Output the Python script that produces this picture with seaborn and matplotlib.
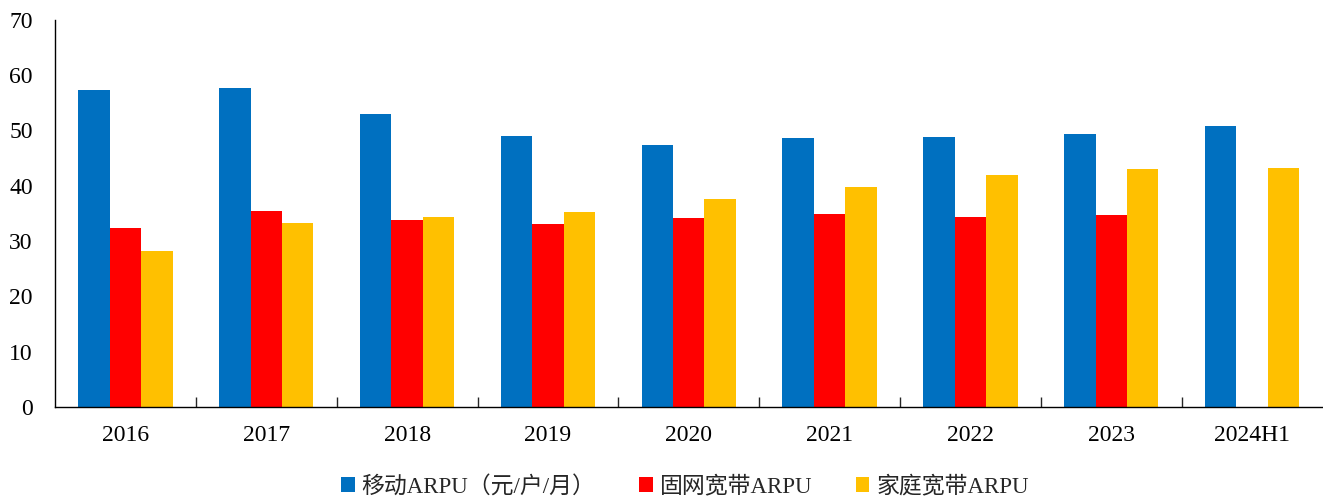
import seaborn as sns
import numpy as np
import pandas as pd
import matplotlib.pyplot as plt
from matplotlib.ticker import FixedLocator

# datos
anios = ['2016', '2017', '2018', '2019', '2020', '2021', '2022', '2023', '2024H1']
movil_arpu = [57.4, 57.7, 53.0, 49.0, 47.3, 48.7, 48.9, 49.3, 50.9]
fijo_arpu = [32.3, 35.4, 33.8, 33.1, 34.2, 34.9, 34.4, 34.8, np.nan]
hogar_arpu = [28.2, 33.2, 34.3, 35.2, 37.6, 39.7, 42.0, 43.1, 43.3]
series = ['移动ARPU（元/户/月）', '固网宽带ARPU', '家庭宽带ARPU']
colores = ['#0070C0', '#FF0000', '#FFC000']

df = pd.DataFrame({
    'anio': anios * 3,
    'serie': [series[0]] * 9 + [series[1]] * 9 + [series[2]] * 9,
    'valor': movil_arpu + fijo_arpu + hogar_arpu,
})

sns.set_style('white')
plt.rcParams['font.family'] = ['Liberation Serif', 'Noto Sans CJK SC']

fig = plt.figure(figsize=(13.23, 4.97), dpi=100)
ax = fig.add_axes([0.0416, 0.181, 0.958, 0.779])

sns.barplot(data=df, x='anio', y='valor', hue='serie', palette=colores,
            width=0.67, saturation=1, ax=ax, errorbar=None, legend=True,
            linewidth=0)

ax.set_ylim(0, 70)
ax.set_xlim(-0.5, len(anios) - 0.5)
ax.set_yticks(range(0, 71, 10))
ax.set_xlabel('')
ax.set_ylabel('')
ax.tick_params(axis='both', labelsize=17, colors='black')
ax.tick_params(axis='x', length=0, pad=13)
ax.tick_params(axis='y', direction='in', length=7, width=1, pad=16)
ax.xaxis.set_minor_locator(FixedLocator(np.arange(0.5, len(anios) - 1, 1)))
ax.tick_params(axis='x', which='minor', direction='in', length=7, width=1, bottom=True)

for s in ['top', 'right']:
    ax.spines[s].set_visible(False)
for s in ['left', 'bottom']:
    ax.spines[s].set_color('black')
    ax.spines[s].set_linewidth(1)

ax.legend(loc='center', bbox_to_anchor=(0.497, -0.205), ncol=3, frameon=False,
          fontsize=16.5, handlelength=0.6, handleheight=0.6, handletextpad=0.3,
          columnspacing=1.9, borderpad=0)

plt.savefig('out.png', dpi=100)
